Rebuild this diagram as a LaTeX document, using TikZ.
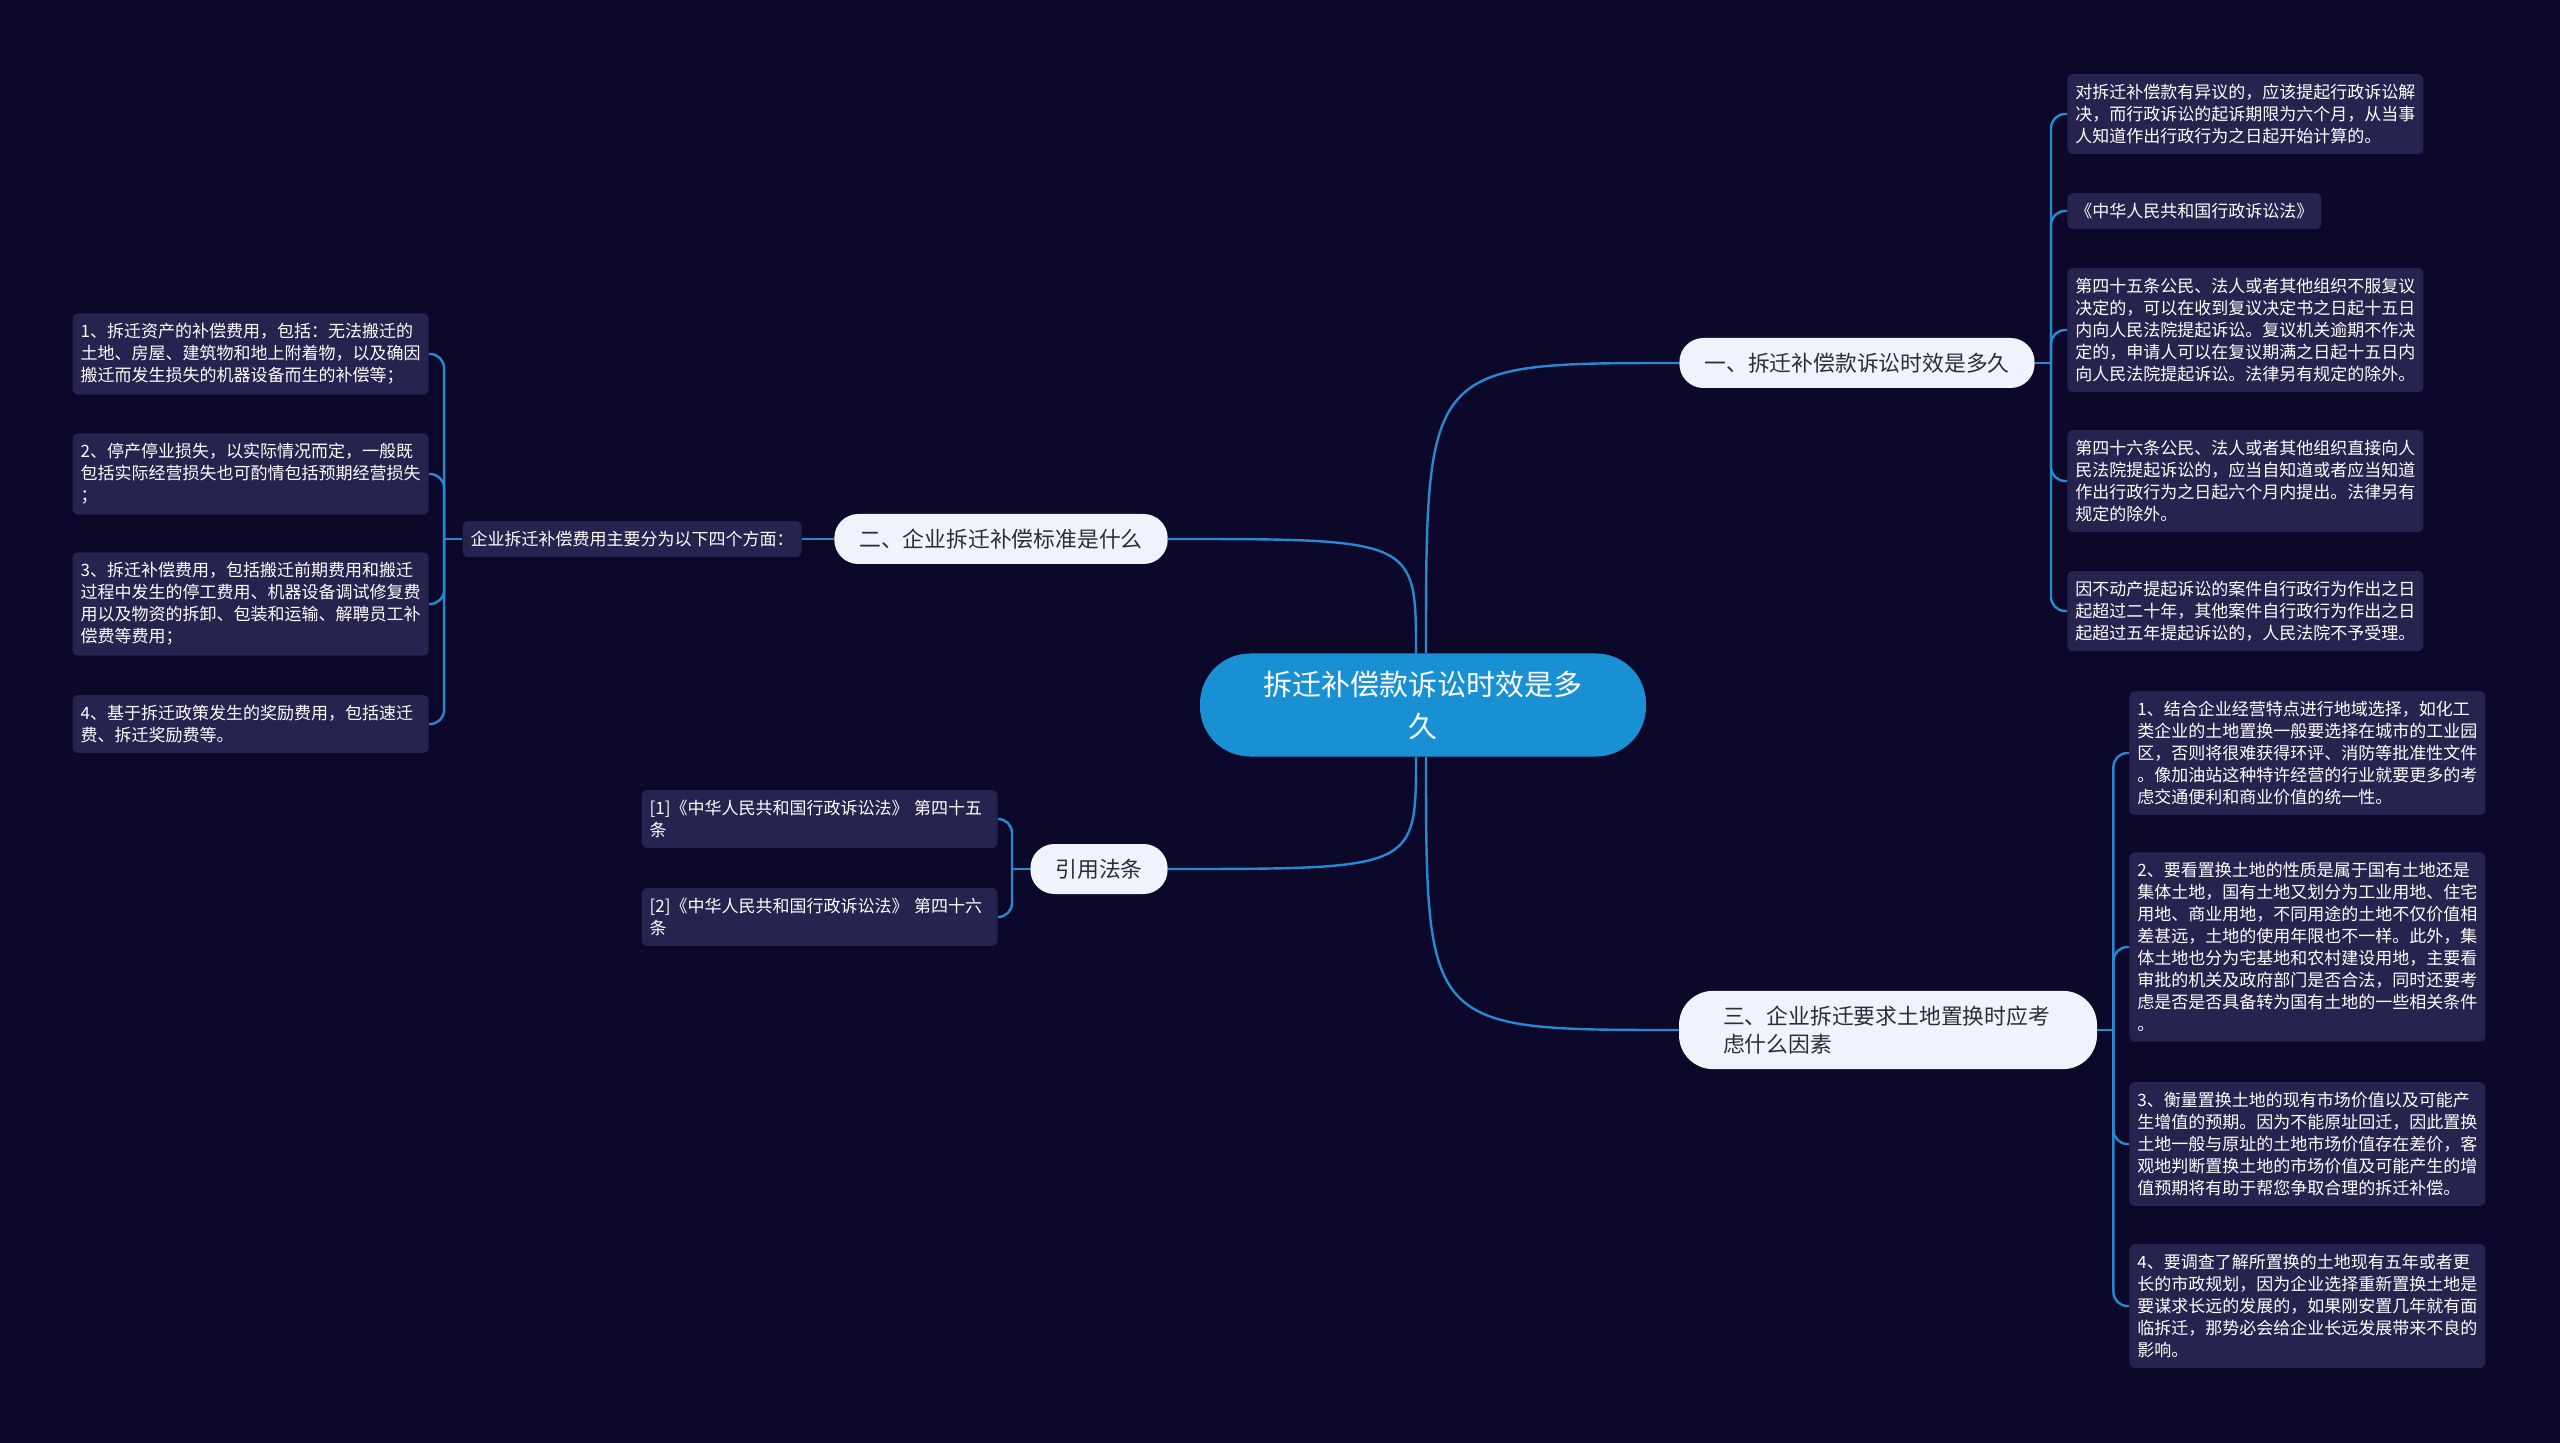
\documentclass[tikz,border=0pt]{standalone}
\usepackage{fontspec}
\setmainfont{Noto Sans CJK SC}
\usetikzlibrary{calc}
\definecolor{bgc}{RGB}{11,8,42}
\definecolor{leafc}{RGB}{38,35,78}
\definecolor{topicc}{RGB}{238,243,252}
\definecolor{rootc}{RGB}{26,144,212}
\definecolor{linkc}{RGB}{38,138,208}
\definecolor{topictxt}{RGB}{45,45,55}

\begin{document}
\begin{tikzpicture}[x=0.5pt, y=-0.5pt,
  leaf/.style={fill=leafc, rounded corners=2.5pt, text=white, font=\fontsize{8.5}{11}\selectfont, align=left, inner xsep=4pt, inner ysep=5pt},
  wide/.style={leaf, text width=170pt},
  topic/.style={fill=topicc, text=topictxt, rounded corners=12pt, font=\fontsize{10.9}{14}\selectfont, inner xsep=12.5pt, minimum height=25pt},
  link/.style={draw=linkc, line width=1.2pt}]
  \fill[bgc] (0,0) rectangle (2560,1443);
  \useasboundingbox (0,0) rectangle (2560,1443);
  % root and main topics
  \node[fill=rootc, text=white, rounded corners=25pt, minimum width=223pt, minimum height=51.5pt, align=center, font=\fontsize{14.5}{21}\selectfont] (root) at (1423,705) {拆迁补偿款诉讼时效是多\\久};
  \node[topic] (t1) at (1857,363) {一、拆迁补偿款诉讼时效是多久};
  \node[topic] (t2) at (1001,539) {二、企业拆迁补偿标准是什么};
  \node[topic] (t3) at (1099,869) {引用法条};
  \node[topic, rounded corners=17pt, align=left, text width=165pt, inner xsep=22pt, inner ysep=7.5pt] (t4) at (1888,1030) {三、企业拆迁要求土地置换时应考\\虑什么因素};
  \coordinate (r1) at ([xshift=1.5pt]root.north);
  \coordinate (r2) at ([xshift=-3.5pt]root.north);
  \coordinate (r3) at ([xshift=-3.5pt]root.south);
  \coordinate (r4) at ([xshift=1.5pt]root.south);
  \draw[link] (r1) .. controls (r1 |- t1.west) .. (t1.west);
  \draw[link] (r2) .. controls (r2 |- t2.east) .. (t2.east);
  \draw[link] (r3) .. controls (r3 |- t3.east) .. (t3.east);
  \draw[link] (r4) .. controls (r4 |- t4.west) .. (t4.west);
  % topic 1
  \node[wide, anchor=west] (a1) at (2067,114) {对拆迁补偿款有异议的，应该提起行政诉讼解\\决，而行政诉讼的起诉期限为六个月，从当事\\人知道作出行政行为之日起开始计算的。};
  \node[leaf, anchor=west] (a2) at (2067,211) {《中华人民共和国行政诉讼法》};
  \node[wide, anchor=west] (a3) at (2067,330) {第四十五条公民、法人或者其他组织不服复议\\决定的，可以在收到复议决定书之日起十五日\\内向人民法院提起诉讼。复议机关逾期不作决\\定的，申请人可以在复议期满之日起十五日内\\向人民法院提起诉讼。法律另有规定的除外。};
  \node[wide, anchor=west] (a4) at (2067,481) {第四十六条公民、法人或者其他组织直接向人\\民法院提起诉讼的，应当自知道或者应当知道\\作出行政行为之日起六个月内提出。法律另有\\规定的除外。};
  \node[wide, anchor=west] (a5) at (2067,611) {因不动产提起诉讼的案件自行政行为作出之日\\起超过二十年，其他案件自行政行为作出之日\\起超过五年提起诉讼的，人民法院不予受理。};
  \draw[link] (t1.east) -- ++(16,0) coordinate (s1);
  \foreach \n in {a1,a2,a3,a4,a5} \draw[link, rounded corners=7pt] (s1) |- (\n.west);
  % topic 2
  \node[leaf] (m2) at (632,539) {企业拆迁补偿费用主要分为以下四个方面：};
  \node[wide, anchor=east] (b1) at (429,354) {1、拆迁资产的补偿费用，包括：无法搬迁的\\土地、房屋、建筑物和地上附着物，以及确因\\搬迁而发生损失的机器设备而生的补偿等；};
  \node[wide, anchor=east] (b2) at (429,474) {2、停产停业损失，以实际情况而定，一般既\\包括实际经营损失也可酌情包括预期经营损失\\；};
  \node[wide, anchor=east] (b3) at (429,604) {3、拆迁补偿费用，包括搬迁前期费用和搬迁\\过程中发生的停工费用、机器设备调试修复费\\用以及物资的拆卸、包装和运输、解聘员工补\\偿费等费用；};
  \node[wide, anchor=east] (b4) at (429,724) {4、基于拆迁政策发生的奖励费用，包括速迁\\费、拆迁奖励费等。};
  \draw[link] (t2.west) -- (m2.east);
  \draw[link] (m2.west) -- ++(-18,0) coordinate (s2);
  \foreach \n in {b1,b2,b3,b4} \draw[link, rounded corners=7pt] (s2) |- (\n.east);
  % topic 3
  \node[wide, anchor=east] (c1) at (998,819) {[1]《中华人民共和国行政诉讼法》 第四十五\\条};
  \node[wide, anchor=east] (c2) at (998,917) {[2]《中华人民共和国行政诉讼法》 第四十六\\条};
  \draw[link] (t3.west) -- ++(-18,0) coordinate (s3);
  \foreach \n in {c1,c2} \draw[link, rounded corners=7pt] (s3) |- (\n.east);
  % topic 4
  \node[wide, anchor=west] (d1) at (2129,753) {1、结合企业经营特点进行地域选择，如化工\\类企业的土地置换一般要选择在城市的工业园\\区，否则将很难获得环评、消防等批准性文件\\。像加油站这种特许经营的行业就要更多的考\\虑交通便利和商业价值的统一性。};
  \node[wide, anchor=west] (d2) at (2129,947) {2、要看置换土地的性质是属于国有土地还是\\集体土地，国有土地又划分为工业用地、住宅\\用地、商业用地，不同用途的土地不仅价值相\\差甚远，土地的使用年限也不一样。此外，集\\体土地也分为宅基地和农村建设用地，主要看\\审批的机关及政府部门是否合法，同时还要考\\虑是否是否具备转为国有土地的一些相关条件\\。};
  \node[wide, anchor=west] (d3) at (2129,1144) {3、衡量置换土地的现有市场价值以及可能产\\生增值的预期。因为不能原址回迁，因此置换\\土地一般与原址的土地市场价值存在差价，客\\观地判断置换土地的市场价值及可能产生的增\\值预期将有助于帮您争取合理的拆迁补偿。};
  \node[wide, anchor=west] (d4) at (2129,1306) {4、要调查了解所置换的土地现有五年或者更\\长的市政规划，因为企业选择重新置换土地是\\要谋求长远的发展的，如果刚安置几年就有面\\临拆迁，那势必会给企业长远发展带来不良的\\影响。};
  \draw[link] (t4.east) -- ++(16,0) coordinate (s4);
  \foreach \n in {d1,d2,d3,d4} \draw[link, rounded corners=7pt] (s4) |- (\n.west);
\end{tikzpicture}
\end{document}
